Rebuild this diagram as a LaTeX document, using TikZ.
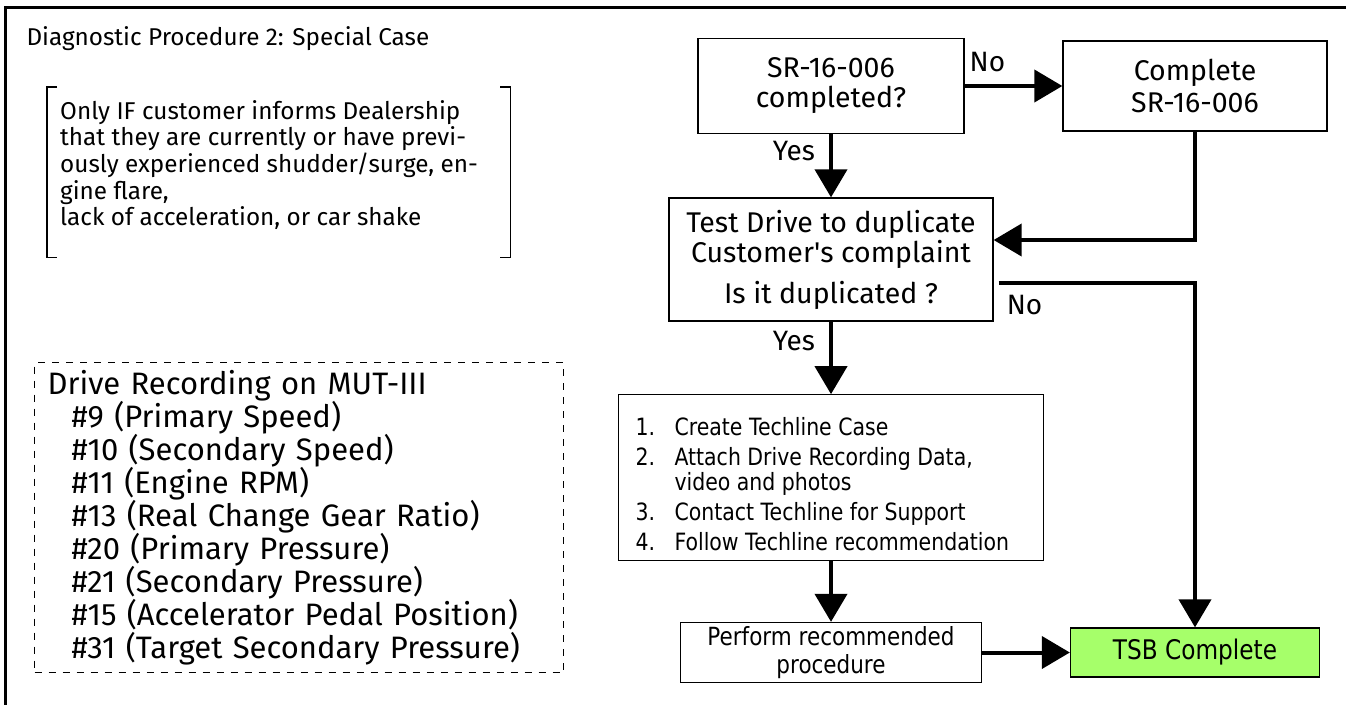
\documentclass[tikz,border=0pt]{standalone}
\usepackage{fontspec}
\setmainfont{Fira Sans}
\newfontfamily\condfont[FakeStretch=0.86]{DejaVu Sans}
\usetikzlibrary{arrows.meta}
\definecolor{tsbgreen}{RGB}{166,255,106}
\tikzstyle{check} = [rectangle, align=center, draw=black, line width=1.3pt, fill=white, font=\fontsize{28.5}{30}\selectfont]
\tikzstyle{task} = [rectangle, align=center, draw=black, line width=1.3pt, fill=white, font=\fontsize{28.5}{31.5}\selectfont]
\tikzstyle{listbox} = [rectangle, draw=black, line width=1.3pt, inner xsep=17pt, inner ysep=9pt, font=\condfont\fontsize{23.8}{25}\selectfont]
\tikzstyle{stepbox} = [rectangle, align=center, draw=black, line width=1.3pt, font=\condfont\fontsize{25}{28}\selectfont]
\tikzstyle{donebox} = [rectangle, align=center, draw=black, line width=1.3pt, fill=tsbgreen, font=\condfont\fontsize{27}{30}\selectfont]
\tikzstyle{edge} = [line width=4pt, -{Triangle[width=32pt,length=28pt]}]
\tikzstyle{lbl} = [inner sep=3pt, font=\fontsize{28}{30}\selectfont]
\tikzstyle{note} = [inner xsep=13pt, inner ysep=13pt, font=\fontsize{24.3}{26.7}\selectfont]
\tikzstyle{bracket} = [line width=1.3pt]
\tikzstyle{recbox} = [rectangle, draw=black, dash pattern=on 7pt off 7pt, line width=1.2pt, align=left, text width=503pt, minimum height=310pt, inner xsep=13pt, font=\fontsize{31}{33}\selectfont]
\tikzstyle{frame} = [line width=3pt]

\begin{document}
\begin{tikzpicture}[x=1pt, y=-1pt]

\useasboundingbox (0,0) rectangle (1346,705);
\draw [frame] (1346,7) -| (5,705);

\node (title) [anchor=west, font=\fontsize{24.3}{30}\selectfont] at (23,39) {Diagnostic Procedure 2: Special Case};

\node (note) [note, anchor=north west] at (47,87) {\parbox[t][144pt][t]{437pt}{Only IF customer informs Dealership\\that they are currently or have previ-\\ously experienced shudder/surge, en-\\gine flare,\\lack of acceleration, or car shake}};
\draw [bracket] ([xshift=10pt]note.north west) -| (note.south west) -- ++(10pt,0);
\draw [bracket] ([xshift=-10pt]note.north east) -| (note.south east) -- ++(-10pt,0);

\node (rec) [recbox, anchor=north west] at (34,362) {Drive Recording on MUT-III\\
\hspace*{24pt}\#9 (Primary Speed)\\
\hspace*{24pt}\#10 (Secondary Speed)\\
\hspace*{24pt}\#11 (Engine RPM)\\
\hspace*{24pt}\#13 (Real Change Gear Ratio)\\
\hspace*{24pt}\#20 (Primary Pressure)\\
\hspace*{24pt}\#21 (Secondary Pressure)\\
\hspace*{24pt}\#15 (Accelerator Pedal Position)\\
\hspace*{24pt}\#31 (Target Secondary Pressure)};

\node (0) [check, minimum width=266pt, minimum height=95pt] at (831,86) {SR-16-006\\completed?};
\node (1) [task, right of=0, node distance=364pt, minimum width=264pt, minimum height=90pt] {Complete\\SR-16-006};
\node (2) [check, below of=0, node distance=173.5pt, minimum width=324pt, minimum height=123pt] {Test Drive to duplicate\\Customer\textquotesingle s complaint\\[11pt]Is it duplicated ?};
\node (3) [listbox, below of=2, node distance=218pt, minimum width=425pt, minimum height=165pt] {\parbox[c][147pt][b]{391pt}{%
\makebox[39pt][l]{1.}Create Techline Case\\[5pt]
\makebox[39pt][l]{2.}Attach Drive Recording Data,\\
\hspace*{39pt}video and photos\\[5pt]
\makebox[39pt][l]{3.}Contact Techline for Support\\[5pt]
\makebox[39pt][l]{4.}Follow Techline recommendation}};
\node (4) [stepbox, below of=3, node distance=175pt, minimum width=301pt, minimum height=60pt] {Perform recommended\\procedure};
\node (5) [donebox, right of=4, node distance=364pt, minimum width=249pt, minimum height=49pt] {TSB Complete};

\draw [edge] (0) -- node (no1) [lbl, anchor=south west, pos=0, yshift=9pt] {No} (1);
\draw [edge] (0) -- node (yes1) [lbl, anchor=north east, pos=0, xshift=-11pt, yshift=-2pt] {Yes} (2);
\draw [edge] (1) |- ([yshift=19.5pt]2.east);
\draw [edge] ([xshift=5pt,yshift=-23pt]2.east) -| node (no2) [lbl, anchor=north, pos=0.066, yshift=-8pt] {No} (5);
\draw [edge] (2) -- node (yes2) [lbl, anchor=north east, pos=0, xshift=-11pt, yshift=-5pt] {Yes} (3);
\draw [edge] (3) -- (4);
\draw [edge] (4) -- (5);

\end{tikzpicture}
\end{document}
